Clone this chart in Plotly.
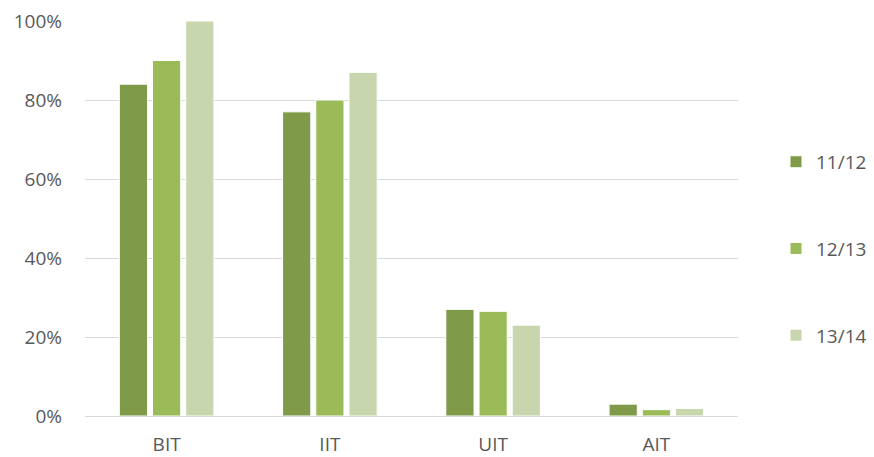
import plotly.graph_objects as go

categories = ["BIT", "IIT", "UIT", "AIT"]
series_names = ["11/12", "12/13", "13/14"]
s1112 = [84, 77, 27, 3]
s1213 = [90, 80, 26.5, 1.6]
s1314 = [100, 87, 23, 1.9]
colors = ["#7F9A48", "#9BBB59", "#C8D6AD"]
y_ticks = [0, 20, 40, 60, 80, 100]
y_tick_labels = ["0%", "20%", "40%", "60%", "80%", "100%"]

fig = go.Figure()
for name, vals, col in zip(series_names, [s1112, s1213, s1314], colors):
    fig.add_trace(go.Bar(
        x=categories, y=vals, name=name, legendgroup=name,
        marker=dict(color=col, line=dict(color="white", width=1)),
    ))

# page body has an 8px default margin; compensate so the plot lands where the reference has it
font_family = "Open Sans, Liberation Sans, sans-serif"
fig.update_layout(
    width=866, height=449,
    margin=dict(l=77, r=136, t=13, b=41, autoexpand=False),
    paper_bgcolor="white", plot_bgcolor="white",
    barmode="group", bargap=0.39, bargroupgap=0.15,
    font=dict(family=font_family, size=19, color="#595959"),
    showlegend=True,
    legend=dict(x=(776 - 85) / 653, xanchor="left",
                y=0.423, yanchor="middle",
                traceorder="grouped", tracegroupgap=59, itemwidth=30,
                font=dict(size=19, color="#595959")),
    xaxis=dict(showgrid=False, showline=False, ticks="", automargin=False,
               ticklabeloverflow="allow",
               ticklabelstandoff=15, tickfont=dict(size=19)),
    yaxis=dict(range=[0, 100], tickvals=y_ticks, ticktext=y_tick_labels,
               automargin=False, ticklabeloverflow="allow",
               showgrid=True, gridcolor="#D9D9D9", gridwidth=1,
               zeroline=True, zerolinecolor="#D9D9D9", zerolinewidth=1,
               showline=False, ticks="", ticklabelstandoff=22,
               tickfont=dict(size=19)),
)

fig.write_html("out.html")
